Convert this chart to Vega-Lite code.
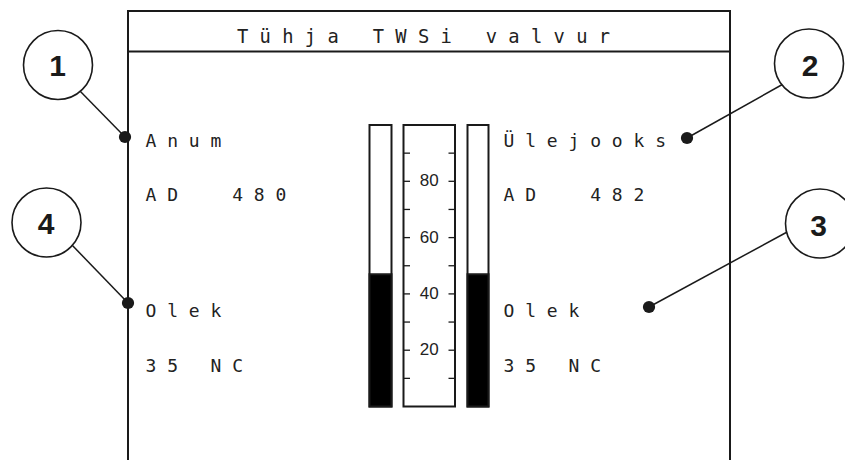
{
  "$schema": "https://vega.github.io/schema/vega-lite/v6.json",
  "width": 845,
  "height": 460,
  "padding": 0,
  "autosize": {"type": "none"},
  "background": "white",
  "config": {"view": {"stroke": null}},
  "resolve": {"scale": {"y": "independent"}},
  "layer": [
    {
      "data": {"values": [
        {"part": "left edge", "x": 128, "y": 11, "x2": 128, "y2": 460},
        {"part": "right edge", "x": 730, "y": 11, "x2": 730, "y2": 460},
        {"part": "top edge", "x": 127, "y": 11, "x2": 731, "y2": 11},
        {"part": "title rule", "x": 128, "y": 51.5, "x2": 730, "y2": 51.5}
      ]},
      "mark": {"type": "rule", "stroke": "#1a1a1a", "strokeWidth": 2},
      "encoding": {
        "x": {"field": "x", "type": "quantitative", "scale": {"domain": [0, 845], "nice": false, "zero": false}, "axis": null},
        "x2": {"field": "x2"},
        "y": {"field": "y", "type": "quantitative", "scale": {"domain": [0, 460], "nice": false, "zero": false, "reverse": true}, "axis": null},
        "y2": {"field": "y2"}
      }
    },
    {
      "data": {"values": [
        {"callout": "1", "x": 125, "y": 137, "x2": 78, "y2": 89},
        {"callout": "2", "x": 687, "y": 138, "x2": 785, "y2": 83},
        {"callout": "3", "x": 649, "y": 307, "x2": 789, "y2": 231},
        {"callout": "4", "x": 128, "y": 303, "x2": 71, "y2": 244}
      ]},
      "mark": {"type": "rule", "stroke": "#1a1a1a", "strokeWidth": 1.5},
      "encoding": {
        "x": {"field": "x", "type": "quantitative", "scale": {"domain": [0, 845], "nice": false, "zero": false}, "axis": null},
        "x2": {"field": "x2"},
        "y": {"field": "y", "type": "quantitative", "scale": {"domain": [0, 460], "nice": false, "zero": false, "reverse": true}, "axis": null},
        "y2": {"field": "y2"}
      }
    },
    {
      "data": {"values": [
        {"callout": "1", "x": 58, "y": 65},
        {"callout": "2", "x": 809, "y": 63.5},
        {"callout": "3", "x": 820, "y": 223.5},
        {"callout": "4", "x": 46.5, "y": 222.5}
      ]},
      "mark": {"type": "point", "shape": "circle", "filled": true, "fill": "white", "stroke": "#1a1a1a", "strokeWidth": 1.6, "size": 4761, "opacity": 1},
      "encoding": {
        "x": {"field": "x", "type": "quantitative", "scale": {"domain": [0, 845], "nice": false, "zero": false}, "axis": null},
        "y": {"field": "y", "type": "quantitative", "scale": {"domain": [0, 460], "nice": false, "zero": false, "reverse": true}, "axis": null}
      }
    },
    {
      "data": {"values": [
        {"callout": "1", "x": 57.5, "y": 65.5},
        {"callout": "2", "x": 810, "y": 65},
        {"callout": "3", "x": 818.5, "y": 225},
        {"callout": "4", "x": 46, "y": 223}
      ]},
      "mark": {"type": "text", "font": "Liberation Sans", "fontWeight": "bold", "fontSize": 30, "align": "center", "baseline": "alphabetic", "dy": 10.8, "fill": "#1a1a1a"},
      "encoding": {
        "x": {"field": "x", "type": "quantitative", "scale": {"domain": [0, 845], "nice": false, "zero": false}, "axis": null},
        "y": {"field": "y", "type": "quantitative", "scale": {"domain": [0, 460], "nice": false, "zero": false, "reverse": true}, "axis": null},
        "text": {"field": "callout", "type": "nominal"}
      }
    },
    {
      "data": {"values": [
        {"callout": "1", "x": 125, "y": 137},
        {"callout": "2", "x": 687, "y": 138},
        {"callout": "3", "x": 649, "y": 307},
        {"callout": "4", "x": 128, "y": 303}
      ]},
      "mark": {"type": "point", "shape": "circle", "filled": true, "fill": "#1a1a1a", "strokeWidth": 0, "size": 150, "opacity": 1},
      "encoding": {
        "x": {"field": "x", "type": "quantitative", "scale": {"domain": [0, 845], "nice": false, "zero": false}, "axis": null},
        "y": {"field": "y", "type": "quantitative", "scale": {"domain": [0, 460], "nice": false, "zero": false, "reverse": true}, "axis": null}
      }
    },
    {
      "data": {"values": [
        {"label": "T ü h j a\u00a0\u00a0\u00a0T W S i\u00a0\u00a0\u00a0v a l v u r", "x": 237, "y": 43}
      ]},
      "mark": {"type": "text", "font": "DejaVu Sans Mono", "fontSize": 18.8, "align": "left", "baseline": "alphabetic", "fill": "#222222"},
      "encoding": {
        "x": {"field": "x", "type": "quantitative", "scale": {"domain": [0, 845], "nice": false, "zero": false}, "axis": null},
        "y": {"field": "y", "type": "quantitative", "scale": {"domain": [0, 460], "nice": false, "zero": false, "reverse": true}, "axis": null},
        "text": {"field": "label", "type": "nominal"}
      }
    },
    {
      "data": {"values": [
        {"label": "A n u m", "x": 145.5, "y": 147},
        {"label": "A D\u00a0\u00a0\u00a0\u00a0\u00a04 8 0", "x": 145.5, "y": 201},
        {"label": "O l e k", "x": 145.5, "y": 316.5},
        {"label": "3 5\u00a0\u00a0\u00a0N C", "x": 145.5, "y": 372},
        {"label": "Ü l e j o o k s", "x": 503.5, "y": 147},
        {"label": "A D\u00a0\u00a0\u00a0\u00a0\u00a04 8 2", "x": 503.5, "y": 201},
        {"label": "O l e k", "x": 503.5, "y": 316.5},
        {"label": "3 5\u00a0\u00a0\u00a0N C", "x": 503.5, "y": 372}
      ]},
      "mark": {"type": "text", "font": "DejaVu Sans Mono", "fontSize": 18, "align": "left", "baseline": "alphabetic", "fill": "#222222"},
      "encoding": {
        "x": {"field": "x", "type": "quantitative", "scale": {"domain": [0, 845], "nice": false, "zero": false}, "axis": null},
        "y": {"field": "y", "type": "quantitative", "scale": {"domain": [0, 460], "nice": false, "zero": false, "reverse": true}, "axis": null},
        "text": {"field": "label", "type": "nominal"}
      }
    },
    {
      "data": {"values": [
        {"gauge": "Anum", "x": 369.5, "x2": 391.5, "v0": 0, "v1": 100},
        {"gauge": "scale", "x": 403.5, "x2": 455, "v0": 0, "v1": 100},
        {"gauge": "Ülejooks", "x": 467.5, "x2": 488.5, "v0": 0, "v1": 100}
      ]},
      "mark": {"type": "rect", "fill": "white", "stroke": "#1a1a1a", "strokeWidth": 2},
      "encoding": {
        "x": {"field": "x", "type": "quantitative", "scale": {"domain": [0, 845], "nice": false, "zero": false}, "axis": null},
        "x2": {"field": "x2"},
        "y": {"field": "v0", "type": "quantitative", "scale": {"domain": [-19, 144.4], "nice": false, "zero": false}, "axis": null},
        "y2": {"field": "v1"}
      }
    },
    {
      "data": {"values": [
        {"gauge": "Anum", "x": 369.5, "x2": 391.5, "v0": 0, "level": 47},
        {"gauge": "Ülejooks", "x": 467.5, "x2": 488.5, "v0": 0, "level": 47}
      ]},
      "mark": {"type": "rect", "fill": "#000000", "stroke": "#1a1a1a", "strokeWidth": 2},
      "encoding": {
        "x": {"field": "x", "type": "quantitative", "scale": {"domain": [0, 845], "nice": false, "zero": false}, "axis": null},
        "x2": {"field": "x2"},
        "y": {"field": "v0", "type": "quantitative", "scale": {"domain": [-19, 144.4], "nice": false, "zero": false}, "axis": null},
        "y2": {"field": "level"}
      }
    },
    {
      "data": {"values": [
        {"v": 10, "x": 403.5, "x2": 410}, {"v": 10, "x": 448.5, "x2": 455},
        {"v": 20, "x": 403.5, "x2": 410}, {"v": 20, "x": 448.5, "x2": 455},
        {"v": 30, "x": 403.5, "x2": 410}, {"v": 30, "x": 448.5, "x2": 455},
        {"v": 40, "x": 403.5, "x2": 410}, {"v": 40, "x": 448.5, "x2": 455},
        {"v": 50, "x": 403.5, "x2": 410}, {"v": 50, "x": 448.5, "x2": 455},
        {"v": 60, "x": 403.5, "x2": 410}, {"v": 60, "x": 448.5, "x2": 455},
        {"v": 70, "x": 403.5, "x2": 410}, {"v": 70, "x": 448.5, "x2": 455},
        {"v": 80, "x": 403.5, "x2": 410}, {"v": 80, "x": 448.5, "x2": 455},
        {"v": 90, "x": 403.5, "x2": 410}, {"v": 90, "x": 448.5, "x2": 455}
      ]},
      "mark": {"type": "rule", "stroke": "#1a1a1a", "strokeWidth": 1.3},
      "encoding": {
        "x": {"field": "x", "type": "quantitative", "scale": {"domain": [0, 845], "nice": false, "zero": false}, "axis": null},
        "x2": {"field": "x2"},
        "y": {"field": "v", "type": "quantitative", "scale": {"domain": [-19, 144.4], "nice": false, "zero": false}, "axis": null}
      }
    },
    {
      "data": {"values": [
        {"v": 20, "x": 429.2},
        {"v": 40, "x": 429.2},
        {"v": 60, "x": 429.2},
        {"v": 80, "x": 429.2}
      ]},
      "mark": {"type": "text", "font": "Liberation Sans", "fontSize": 17, "align": "center", "baseline": "middle", "fill": "#222222"},
      "encoding": {
        "x": {"field": "x", "type": "quantitative", "scale": {"domain": [0, 845], "nice": false, "zero": false}, "axis": null},
        "y": {"field": "v", "type": "quantitative", "scale": {"domain": [-19, 144.4], "nice": false, "zero": false}, "axis": null},
        "text": {"field": "v", "type": "quantitative"}
      }
    }
  ]
}
